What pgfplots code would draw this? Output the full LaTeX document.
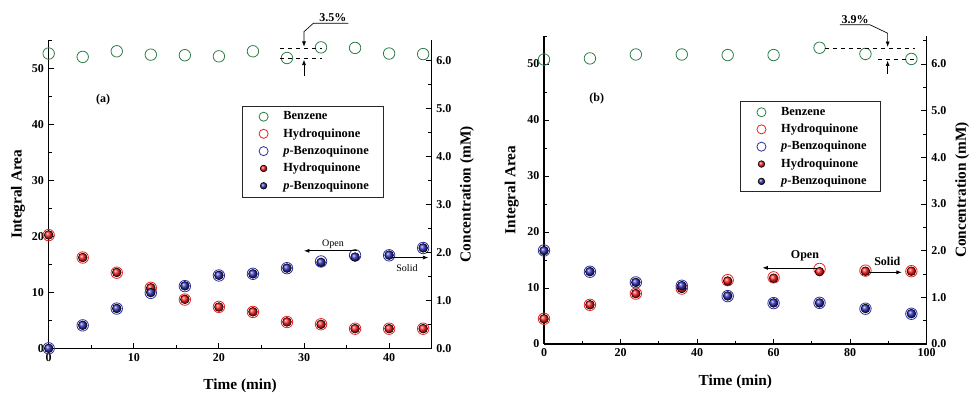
\documentclass[border=0pt]{standalone}
\usepackage{fontspec}
\setmainfont{Liberation Serif}
\usepackage{pgfplots}
\pgfplotsset{compat=1.18}
\usetikzlibrary{arrows.meta}

\definecolor{bzgreen}{RGB}{46,125,70}
\definecolor{hqred}{RGB}{230,35,35}
\definecolor{bqblue}{RGB}{45,45,160}
\definecolor{hqball}{RGB}{245,30,30}
\definecolor{bqball}{RGB}{50,50,185}

\tikzset{arr/.style={-{Latex[length=4pt,width=3pt]}, line width=0.5pt}}

\pgfplotsset{
 base/.style={
  scale only axis,
  ymin=0,
  tick align=inside,
  major tick length=4pt, minor tick length=2.5pt,
  axis line style={-, line width=0.8pt},
  every tick/.style={line width=0.7pt, black},
  tick label style={font=\bfseries\fontsize{9}{10}\selectfont},
  /pgf/number format/assume math mode=true,
  label style={font=\bfseries\fontsize{11.5}{13}\selectfont},
 },
 openm/.style={only marks, mark=o, mark size=4.3pt, mark options={line width=0.6pt, draw=#1},
   legend image code/.code={\path[draw=none,fill=none] (0,0) -- (0.92cm,0); \draw[##1, mark size=3.4pt] plot coordinates {(0.47cm,0cm)};}},
 filledm/.style={only marks, mark=ball, mark size=3.3pt, mark options={ball color=#1}},
 ballleg/.style={only marks, mark=ball, mark size=2.5pt, mark options={ball color=#1},
   legend image code/.code={\path[draw=none,fill=none] (0,0) -- (0.92cm,0); \draw[##1] plot coordinates {(0.47cm,0cm)};}},
 lgd/.style={legend style={at={(#1)}, anchor=north west, draw=none, fill=none,
   font=\bfseries\fontsize{9.3}{10}\selectfont, cells={anchor=west}, row sep=1.05pt, inner sep=2pt}},
}

\begin{document}
\begin{tikzpicture}
\useasboundingbox (0,0) rectangle (726.75pt,294.75pt);

% ---------------- Panel (a) ----------------
\begin{axis}[base, at={(36.5pt,33.5pt)}, width=287.25pt, height=231.2pt,
  xmin=0, xmax=45, ymax=55,
  xtick={0,10,...,40}, minor xtick={5,15,...,45},
  ytick={0,10,...,50}, minor ytick={5,15,...,55},
  axis x line*=bottom, axis y line*=left,
  xlabel={Time (min)}, ylabel={Integral Area},
  xlabel style={at={(axis description cs:0.5,-0.12)}, anchor=center},
  ylabel style={at={(axis description cs:-0.080,0.5)}, anchor=center},
  clip mode=individual,
  lgd={0.507,0.786}]
\draw[black!85, line width=0.6pt] (axis description cs:0.507,0.786) rectangle (axis description cs:0.873,0.491);
\addplot[openm=bzgreen] coordinates {(0,52.6)(4,52.0)(8,53.0)(12,52.4)(16,52.3)(20,52.1)(24,53.0)(28,51.8)(32,53.7)(36,53.6)(40,52.6)(44,52.5)};
\addlegendentry{Benzene}
\addplot[openm=hqred] coordinates {(0,20.2)(4,16.2)(8,13.5)(12,10.8)(16,8.7)(20,7.4)(24,6.5)(28,4.7)(32,4.3)(36,3.5)(40,3.5)(44,3.5)};
\addlegendentry{Hydroquinone}
\addplot[openm=bqblue] coordinates {(0,0)(4,4.1)(8,7.1)(12,9.9)(16,11.1)(20,13.0)(24,13.3)(28,14.3)(32,15.5)(36,16.6)(40,16.6)(44,17.9)};
\addlegendentry{\textit{p}-Benzoquinone}
\addlegendimage{ballleg=hqball}
\addlegendentry{Hydroquinone}
\addlegendimage{ballleg=bqball}
\addlegendentry{\textit{p}-Benzoquinone}
% annotations
\draw[dashed, line width=0.5pt] (axis cs:27.2,53.6) -- (axis cs:32.1,53.6);
\draw[dashed, line width=0.5pt] (axis cs:27.2,51.7) -- (axis cs:32.1,51.7);
\draw[arr] (axis cs:35.2,58.0) -- (axis cs:31.1,58.0) -- (axis cs:30.0,56.5) -- (axis cs:30.0,53.8);
\draw[arr] (axis cs:30.0,48.6) -- (axis cs:30.0,51.5);
\node[font=\bfseries\fontsize{9}{10}\selectfont, anchor=south, inner sep=1pt] at (axis cs:33.4,58.0) {3.5\%};
\node[font=\bfseries\fontsize{9}{10}\selectfont] at (axis cs:6.4,44.3) {(a)};
\node[font=\fontsize{7.5}{9}\selectfont] at (axis cs:33.4,18.5) {Open};
\draw[arr] (axis cs:36.2,17.4) -- (axis cs:30.0,17.4);
\node[font=\fontsize{7.5}{9}\selectfont] at (axis cs:42.1,14.4) {Solid};
\draw[arr] (axis cs:40.3,16.2) -- (axis cs:44.6,16.2);
\end{axis}

\begin{axis}[base, at={(36.5pt,33.5pt)}, width=287.25pt, height=231.2pt,
  xmin=0, xmax=45, ymax=6.417,
  axis x line=none, axis y line*=right,
  ytick={0,1,...,6}, minor ytick={0.5,1.5,...,6},
  yticklabel style={/pgf/number format/.cd, fixed, fixed zerofill, precision=1},
  ylabel={Concentration (mM)},
  ylabel style={at={(axis description cs:1.092,0.5)}, anchor=center}]
\addplot[filledm=hqball] coordinates {(0,2.36)(4,1.89)(8,1.58)(12,1.26)(16,1.02)(20,0.86)(24,0.76)(28,0.55)(32,0.50)(36,0.41)(40,0.41)(44,0.41)};
\addplot[filledm=bqball] coordinates {(0,0)(4,0.48)(8,0.83)(12,1.16)(16,1.30)(20,1.52)(24,1.55)(28,1.67)(32,1.79)(36,1.90)(40,1.94)(44,2.09)};
\end{axis}

% ---------------- Panel (b) ----------------
\begin{axis}[base, at={(408pt,36.75pt)}, width=287pt, height=231pt,
  xmin=0, xmax=100, ymax=55,
  xtick={0,20,...,100}, minor xtick={10,30,...,90},
  ytick={0,10,...,50}, minor ytick={5,15,...,55},
  axis x line*=bottom, axis y line*=left,
  xlabel={Time (min)}, ylabel={Integral Area},
  xlabel style={at={(axis description cs:0.5,-0.122)}, anchor=center},
  ylabel style={at={(axis description cs:-0.084,0.5)}, anchor=center},
  clip mode=individual,
  lgd={0.514,0.787}]
\draw[black!85, line width=0.6pt] (axis description cs:0.514,0.787) rectangle (axis description cs:0.878,0.494);
\addplot[openm=bzgreen] coordinates {(0,50.8)(12,51.0)(24,51.7)(36,51.7)(48,51.6)(60,51.6)(72,52.9)(84,51.8)(96,50.9)};
\addlegendentry{Benzene}
\addplot[openm=hqred] coordinates {(0,4.5)(12,7.0)(24,9.0)(36,9.9)(48,11.4)(60,11.9)(72,13.4)(84,13.1)(96,13.0)};
\addlegendentry{Hydroquinone}
\addplot[openm=bqblue] coordinates {(0,16.7)(12,12.9)(24,11.0)(36,10.4)(48,8.55)(60,7.3)(72,7.35)(84,6.3)(96,5.4)};
\addlegendentry{\textit{p}-Benzoquinone}
\addlegendimage{ballleg=hqball}
\addlegendentry{Hydroquinone}
\addlegendimage{ballleg=bqball}
\addlegendentry{\textit{p}-Benzoquinone}
% annotations
\draw[dashed, line width=0.5pt] (axis cs:73.4,52.85) -- (axis cs:96.9,52.85);
\draw[dashed, line width=0.5pt] (axis cs:87.3,50.8) -- (axis cs:96.9,50.8);
\draw[arr] (axis cs:77.3,57.0) -- (axis cs:85.2,57.0) -- (axis cs:89.8,55.5) -- (axis cs:89.8,53.05);
\draw[arr] (axis cs:89.8,48.3) -- (axis cs:89.8,50.6);
\node[font=\bfseries\fontsize{9}{10}\selectfont, anchor=south, inner sep=1pt] at (axis cs:81.3,57.0) {3.9\%};
\node[font=\bfseries\fontsize{9}{10}\selectfont] at (axis cs:13.8,43.9) {(b)};
\node[font=\bfseries\fontsize{9}{10}\selectfont] at (axis cs:68.2,15.7) {Open};
\draw[arr] (axis cs:71.7,13.6) -- (axis cs:57.1,13.6);
\node[font=\bfseries\fontsize{9}{10}\selectfont] at (axis cs:89.7,14.8) {Solid};
\draw[arr] (axis cs:84.8,12.8) -- (axis cs:93.5,12.8);
\end{axis}

\begin{axis}[base, at={(408pt,36.75pt)}, width=287pt, height=231pt,
  xmin=0, xmax=100, ymax=6.60,
  axis x line=none, axis y line*=right,
  ytick={0,1,...,6}, minor ytick={0.5,1.5,...,6.5},
  yticklabel style={/pgf/number format/.cd, fixed, fixed zerofill, precision=1},
  ylabel={Concentration (mM)},
  ylabel style={at={(axis description cs:1.093,0.5)}, anchor=center}]
\addplot[filledm=hqball] coordinates {(0,0.54)(12,0.84)(24,1.08)(36,1.19)(48,1.35)(60,1.41)(72,1.55)(84,1.56)(96,1.56)};
\addplot[filledm=bqball] coordinates {(0,2.00)(12,1.55)(24,1.32)(36,1.25)(48,1.03)(60,0.88)(72,0.88)(84,0.76)(96,0.65)};
\end{axis}
\end{tikzpicture}
\end{document}
